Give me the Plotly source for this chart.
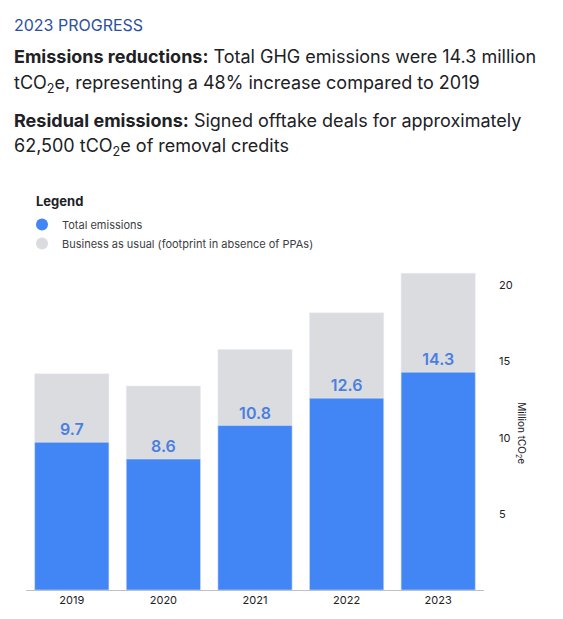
import plotly.graph_objects as go

# values (million tCO2e)
years = ["2019", "2020", "2021", "2022", "2023"]
total_emissions = [9.7, 8.6, 10.8, 12.6, 14.3]
business_as_usual = [14.2, 13.4, 15.8, 18.2, 20.8]
y_ticks = [5, 10, 15, 20]

BLUE = "#4285f4"
GREY = "#dadce0"
LABEL_BLUE = "#4a7fe0"
FONT = "Inter"

# page has an 8px body margin, so the figure sits at (8, 8) in the window
OFF = 8
W, H = 563 - OFF, 619 - OFF
M_L, M_R, M_T, M_B = 18, 79, 247, 22


def py(win_y):
    # window pixel row -> paper y
    return (H - M_B - (win_y - OFF)) / (H - M_T - M_B)


def px(win_x):
    return ((win_x - OFF) - M_L) / (W - M_L - M_R)


fig = go.Figure()

fig.add_trace(go.Bar(
    x=years, y=business_as_usual, marker_color=GREY, showlegend=False,
    hoverinfo="skip",
))
fig.add_trace(go.Bar(
    x=years, y=total_emissions, marker_color=BLUE, showlegend=False,
    text=[f"{v:.1f}" for v in total_emissions], textposition="outside",
    textfont=dict(color=LABEL_BLUE, size=16, family=FONT, weight=600),
    cliponaxis=False,
))

# legend entries with round markers
fig.add_trace(go.Scatter(
    x=[None], y=[None], mode="markers", name="Total emissions",
    marker=dict(color=BLUE, size=12, symbol="circle"),
))
fig.add_trace(go.Scatter(
    x=[None], y=[None], mode="markers",
    name="Business as usual (footprint in absence of PPAs)",
    marker=dict(color=GREY, size=12, symbol="circle"),
))

BODY = dict(size=18, color="#202124")
annotations = [
    dict(text="2023 PROGRESS", x=px(12), y=py(20), font=dict(size=16, color="#2d4f9e")),
    dict(text="<b>Emissions reductions:</b> Total GHG emissions were 14.3 million",
         x=px(12), y=py(52), font=dict(BODY)),
    dict(text="tCO<sub>2</sub>e, representing a 48% increase compared to 2019",
         x=px(12), y=py(80), font=dict(BODY)),
    dict(text="<b>Residual emissions:</b> Signed offtake deals for approximately",
         x=px(12), y=py(118), font=dict(BODY)),
    dict(text="62,500 tCO<sub>2</sub>e of removal credits",
         x=px(12), y=py(145), font=dict(BODY)),
    dict(text="<b>Legend</b>", x=px(34), y=py(200),
         font=dict(size=13, color="#202124")),
]
for a in annotations:
    a.update(xref="paper", yref="paper", xanchor="left", yanchor="middle",
             showarrow=False)
    a["font"]["family"] = FONT

# right-side axis title, reading top to bottom
annotations.append(dict(
    text="Million tCO<sub>2</sub>e", xref="paper", yref="paper",
    x=px(530), y=py(437), textangle=90, showarrow=False,
    font=dict(size=10, color="#202124", family=FONT),
))

fig.update_layout(
    width=W, height=H,
    margin=dict(l=M_L, r=M_R, t=M_T, b=M_B),
    paper_bgcolor="white", plot_bgcolor="white",
    barmode="overlay", bargap=0.19,
    font=dict(family=FONT, color="#202124"),
    annotations=annotations,
    legend=dict(
        x=px(22), y=py(209), xanchor="left", yanchor="top",
        font=dict(size=11, family=FONT, color="#3c4043"),
        bgcolor="rgba(0,0,0,0)", tracegroupgap=0, itemwidth=30,
    ),
    xaxis=dict(
        showgrid=False, showline=True, linecolor="#bdc1c6", linewidth=1,
        tickfont=dict(size=11, color="#202124"), ticks="", fixedrange=True,
    ),
    yaxis=dict(
        side="right", range=[0, 22], tickvals=y_ticks, showgrid=False,
        zeroline=False, showline=False, ticks="",
        tickfont=dict(size=11, color="#202124"), ticklabelstandoff=14,
    ),
)

fig.write_html("out.html")
